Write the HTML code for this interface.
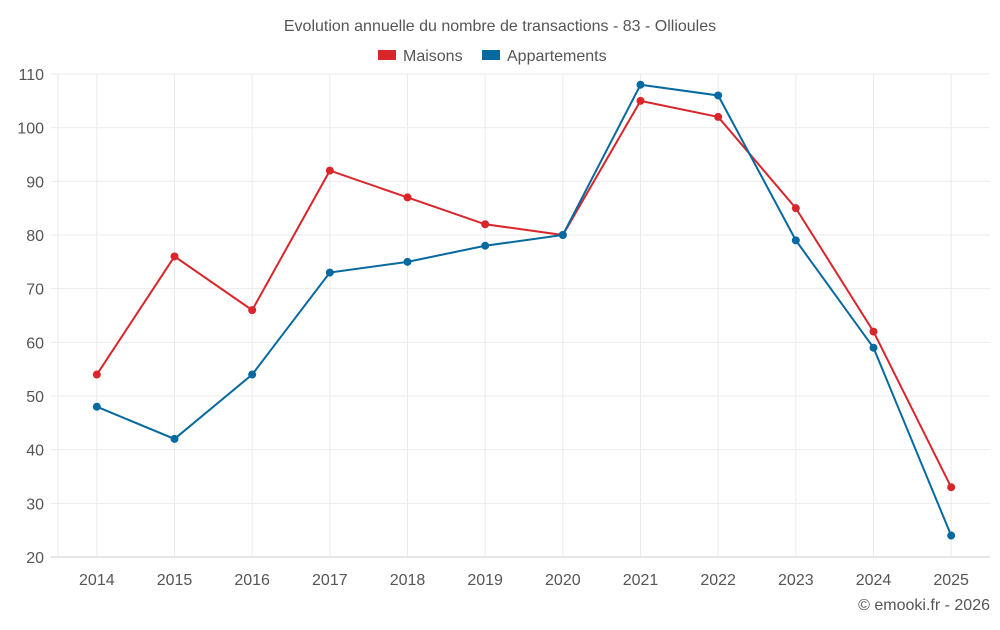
<!DOCTYPE html>
<html><head><meta charset="utf-8"><style>
body{margin:0;background:#fff;width:1000px;height:625px;overflow:hidden}
svg{font-family:"Liberation Sans",sans-serif}
</style></head><body>
<svg id="c" width="1000" height="625">
<text x="500" y="31" text-anchor="middle" font-size="16" fill="#555">Evolution annuelle du nombre de transactions - 83 - Ollioules</text>
<g>
<g><rect x="378" y="50" width="18" height="10" fill="#d9262b"/><text x="403" y="61" font-size="16" fill="#555">Maisons</text></g>
<g><rect x="482" y="50" width="18" height="10" fill="#06699f"/><text x="507" y="61" font-size="16" fill="#555">Appartements</text></g>
</g>
<g id="grid"></g><g id="axes"></g><g id="series"></g>
<text x="990" y="610" text-anchor="end" font-size="16" fill="#555">© emooki.fr - 2026</text>
</svg>
<script>
const years=["2014","2015","2016","2017","2018","2019","2020","2021","2022","2023","2024","2025"];
const maisons=[54,76,66,92,87,82,80,105,102,85,62,33];
const appartements=[48,42,54,73,75,78,80,108,106,79,59,24];
const yTicks=[20,30,40,50,60,70,80,90,100,110];
const NS="http://www.w3.org/2000/svg";
const L=58,R=990,T=74,B=557;
const bw=(R-L)/years.length;
const x=i=>L+bw*(i+0.5);
const y=v=>B-(v-20)/90*(B-T);
function mk(t,a,p){const e=document.createElementNS(NS,t);for(const k in a)e.setAttribute(k,a[k]);p.appendChild(e);return e;}
const g=document.getElementById('grid'),ax=document.getElementById('axes'),s=document.getElementById('series');
yTicks.forEach(v=>{
 const l=mk('line',{x1:51,x2:R,y1:y(v),y2:y(v),stroke:v===20?'#ccc':'#ebebeb'},g);
 
 
 const t=mk('text',{x:44,y:y(v)+6,'text-anchor':'end','font-size':16,fill:'#555'},ax);t.textContent=v;
 
 
});
const ly=mk('line',{x1:L,x2:L,y1:T,y2:B,stroke:'#ebebeb'},g);


years.forEach((yr,i)=>{
 const l=mk('line',{x1:x(i),x2:x(i),y1:T,y2:B,stroke:'#ebebeb'},g);
 
 
 const t=mk('text',{x:x(i),y:585,'text-anchor':'middle','font-size':16,fill:'#555'},ax);t.textContent=yr;
 
 });
function series(d,c,n){
 const p=mk('polyline',{points:d.map((v,i)=>x(i)+','+y(v)).join(' '),fill:'none',stroke:c,'stroke-width':2},s);
 
 
 d.forEach((v,i)=>{const e=mk('circle',{cx:x(i),cy:y(v),r:4,fill:c},s);
 
 });
}
series(maisons,'#d9262b','maisons');
series(appartements,'#06699f','appartements');
</script>
</body></html>
